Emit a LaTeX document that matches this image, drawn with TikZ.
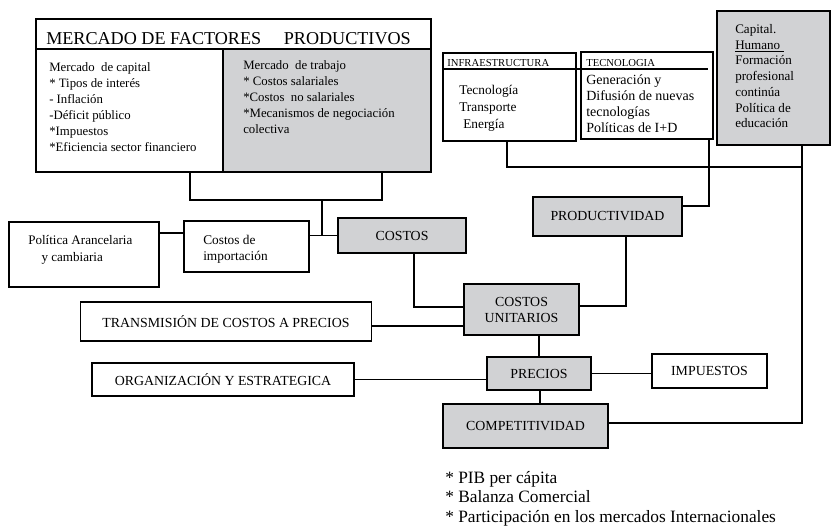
\documentclass[tikz,border=0pt]{standalone}
\usepackage{fontspec}
\setmainfont{Liberation Serif}
\definecolor{boxgray}{RGB}{209,210,212}

\begin{document}
\begin{tikzpicture}[x=0.75pt,y=-0.75pt,
    box/.style={draw,line width=1.1pt,inner sep=0pt,align=center,
      font=\fontsize{10.4}{12}\selectfont},
    graybox/.style={box,fill=boxgray},
    sz/.style 2 args={minimum width=#1*0.75pt,minimum height=#2*0.75pt},
    txt/.style={inner sep=0pt,anchor=north west,align=left,
      font=\fontsize{9.6}{12}\selectfont},
    link/.style={line width=0.8pt}]
    \useasboundingbox (0,0) rectangle (831,528);
    % mercado de factores productivos
    \node[box,sz={395}{153}] (mercado) at (233.5,95.5) {};
    \node[box,sz={187}{123}] (mcapital) at (129.5,110.5) {};
    \node[graybox,sz={208}{123}] (mtrabajo) at (327,110.5) {};
    \node[txt,anchor=base west,font=\fontsize{13.6}{16}\selectfont] (titulo) at (46,45)
      {MERCADO DE FACTORES\hspace{17pt}PRODUCTIVOS};
    \node[txt] (capitaltxt) at (49,62) {Mercado\ \ de capital\\* Tipos de interés\\- Inflación\\-Déficit público\\*Impuestos\\*Eficiencia sector financiero};
    \node[txt] (trabajotxt) at (243,60) {Mercado\ \ de trabajo\\* Costos salariales\\*Costos\ \ no salariales\\*Mecanismos de negociación\\colectiva};
    % infraestructura, tecnologia, capital humano
    \node[box,sz={133}{88}] (infra) at (509.5,97) {};
    \node[box,sz={132}{87}] (tecno) at (647,95.5) {};
    \node[graybox,sz={113}{134}] (humano) at (773.5,78) {};
    \coordinate (tl) at (708,69);
    \draw[link] (tl -| infra.west) -- (tl);
    \node[txt,anchor=base west,font=\fontsize{8}{10}\selectfont] (infratit) at (447,67) {INFRAESTRUCTURA};
    \node[txt,anchor=base west,font=\fontsize{8}{10}\selectfont] (tecnotit) at (586,67) {TECNOLOGIA};
    \node[txt,font=\fontsize{10}{12.75}\selectfont] (infratxt) at (459,85) {Tecnología\\Transporte\\\hspace{3pt}Energía};
    \node[txt,font=\fontsize{10.5}{12}\selectfont] (tecnotxt) at (586,74) {Generación y\\Difusión de nuevas\\tecnologías\\Políticas de I+D};
    \node[txt,font=\fontsize{9.8}{11.8}\selectfont] (humanotxt) at (735,24) {Capital.\\\underline{Humano\ }\\Formación\\profesional\\continúa\\Política de\\educación};
    % costos
    \node[box,sz={150}{65}] (arancel) at (84,254.5) {};
    \node[txt,font=\fontsize{9.8}{12.75}\selectfont] (arancetxt) at (28,235) {Política Arancelaria\\\hspace{10pt}y cambiaria};
    \node[box,sz={125}{51}] (importacion) at (246.5,246.5) {};
    \node[txt,font=\fontsize{10}{12}\selectfont] (importxt) at (203,235) {Costos de\\importación};
    \node[graybox,sz={128}{35}] (costos) at (402,235.5) {COSTOS};
    \node[graybox,sz={149}{39}] (productividad) at (607.5,216.5) {PRODUCTIVIDAD};
    \node[graybox,sz={115}{51}] (unitarios) at (521.5,309.5) {COSTOS\\UNITARIOS};
    \node[box,sz={291}{39}] (transmision) at (226,321.5) {TRANSMISIÓN DE COSTOS A PRECIOS};
    \node[box,sz={262}{33}] (organizacion) at (223,379.5) {ORGANIZACIÓN Y ESTRATEGICA};
    \node[graybox,sz={104}{33}] (precios) at (539,373.5) {PRECIOS};
    \node[box,sz={115}{34}] (impuestos) at (709.5,371) {IMPUESTOS};
    \node[graybox,sz={165}{44}] (competitividad) at (525.5,426) {COMPETITIVIDAD};
    \node[txt,font=\fontsize{13}{14.6}\selectfont] (indicadores) at (445,471) {* PIB per cápita\\* Balanza Comercial\\* Participación en los mercados Internacionales};
    % conectores
    \coordinate (bl) at (190,200);
    \coordinate (br) at (382,200);
    \coordinate (bm) at (322,200);
    \draw[link] (bl |- mercado.south) -- (bl) -- (br) -- (br |- mercado.south);
    \draw[link] (bm) -- (bm |- costos.west);
    \draw[link] (importacion.east |- costos.west) -- (costos.west);
    \coordinate (ja) at (170,233);
    \draw[link] (ja -| arancel.east) -- (ja -| importacion.west);
    \coordinate (jc) at (414,307);
    \draw[link] (jc |- costos.south) -- (jc) -- (jc -| unitarios.west);
    \coordinate (jt) at (420,326);
    \draw[link] (jt -| transmision.east) -- (jt -| unitarios.west);
    \coordinate (ju) at (626,306);
    \draw[link] (ju -| unitarios.east) -- (ju) -- (ju |- productividad.south);
    \coordinate (jq) at (709,206);
    \draw[link] (jq -| productividad.east) -- (jq) -- (jq |- tecno.south);
    \draw[link] (precios.north |- unitarios.south) -- (precios.north);
    \draw[link] (organizacion.east) -- (organizacion.east -| precios.west);
    \draw[link] (precios.east) -- (precios.east -| impuestos.west);
    \coordinate (jp) at (540,390);
    \draw[link] (jp) -- (jp |- competitividad.north);
    \coordinate (ji) at (507,167);
    \coordinate (jh) at (802,167);
    \coordinate (jk) at (802,423);
    \draw[link] (ji |- infra.south) -- (ji) -- (jh);
    \draw[link] (jk -| competitividad.east) -- (jk) -- (jk |- humano.south);
\end{tikzpicture}
\end{document}
